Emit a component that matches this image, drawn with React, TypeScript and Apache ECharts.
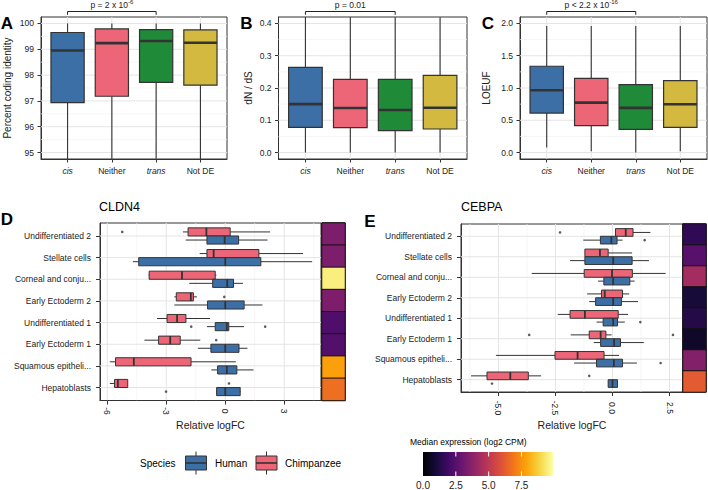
import React, { useEffect, useRef } from 'react';
import * as echarts from 'echarts';

const FONT = '"Liberation Sans", Arial, Helvetica, sans-serif';
const INK = '#222222';
const LINE = '#333333';

// ---------- top panels (A, B, C) ----------
const topCategories = ['cis', 'Neither', 'trans', 'Not DE'];
const italicCategories = ['cis', 'trans'];
const topColors = ['#3d6fa7', '#ec6677', '#1f8b38', '#d3b940'];
// [lower whisker, Q1, median, Q3, upper whisker]
const identityStats = [
  [94.4, 96.93, 98.95, 99.65, 100.0],
  [94.4, 97.18, 99.24, 99.79, 100.0],
  [94.4, 97.72, 99.32, 99.76, 100.0],
  [94.4, 97.61, 99.25, 99.75, 100.0],
];
const dndsStats = [
  [0.0, 0.078, 0.15, 0.264, 0.46],
  [0.0, 0.077, 0.138, 0.227, 0.46],
  [0.0, 0.068, 0.132, 0.227, 0.46],
  [0.0, 0.073, 0.139, 0.239, 0.46],
];
const loeufStats = [
  [0.08, 0.611, 0.966, 1.337, 1.96],
  [0.02, 0.417, 0.773, 1.15, 1.96],
  [0.0, 0.36, 0.692, 1.053, 1.96],
  [0.02, 0.39, 0.748, 1.114, 1.96],
];
const identityTicks = [95, 96, 97, 98, 99, 100];
const identityMinor = [95.5, 96.5, 97.5, 98.5, 99.5];
const dndsTicks = [0, 0.1, 0.2, 0.3, 0.4];
const dndsMinor = [0.05, 0.15, 0.25, 0.35];
const loeufTicks = [0, 0.5, 1, 1.5, 2];
const loeufMinor = [0.25, 0.75, 1.25, 1.75];
const comparedPair = ['cis', 'trans'];
const pIdentity = { base: 'p = 2 x 10', exp: '-6' };
const pDnds = { base: 'p = 0.01', exp: '' };
const pLoeuf = { base: 'p < 2.2 x 10', exp: '-16' };

// ---------- bottom panels (D, E) ----------
const cellTypes = [
  'Undifferentiated 2',
  'Stellate cells',
  'Corneal and conju...',
  'Early Ectoderm 2',
  'Undifferentiated 1',
  'Early Ectoderm 1',
  'Squamous epitheli...',
  'Hepatoblasts',
];
const speciesNames = ['Human', 'Chimpanzee'];
const speciesColors = ['#3d6fa7', '#ec6677'];

const cldn4Chimp = [
  [-2.15, -1.89, -0.96, 0.25, 2.28],
  [-1.3, -0.93, -0.59, 1.71, 3.96],
  [-3.9, -3.87, -2.2, -0.51, -0.45],
  [-2.59, -2.49, -1.75, -1.62, -1.44],
  [-3.47, -2.96, -2.45, -2.0, -0.77],
  [-4.11, -3.39, -2.8, -2.29, -1.27],
  [-5.87, -5.58, -4.65, -1.74, 0.54],
  [-5.87, -5.63, -5.46, -4.96, -4.96],
];
const cldn4Human = [
  [-2.01, -0.93, -0.03, 0.68, 2.15],
  [-4.7, -4.4, 0.0, 1.81, 4.42],
  [-1.83, -0.64, 0.1, 0.42, 0.9],
  [-2.59, -0.9, 0.0, 0.96, 1.89],
  [-0.93, -0.51, 0.08, 0.18, 0.96],
  [-1.39, -0.73, 0.0, 0.7, 1.13],
  [-0.71, -0.39, 0.08, 0.59, 1.44],
  [-0.46, -0.44, 0.0, 0.76, 0.78],
];
// [cell type index, value]
const cldn4ChimpOutliers = [[0, -5.24], [3, -0.05], [5, -0.46], [7, 0.19]];
const cldn4HumanOutliers = [[4, -1.73], [4, 2.03], [7, -3.01]];

const cebpaChimp = [
  [0.13, 0.13, 0.58, 0.9, 1.66],
  [-1.21, -1.21, -0.55, -0.19, 0.86],
  [-3.54, -1.24, -0.02, 0.87, 2.33],
  [-1.11, -0.48, -0.34, 0.44, 0.73],
  [-2.4, -1.86, -1.21, 0.25, 0.68],
  [-1.83, -1.02, -0.52, -0.29, -0.04],
  [-5.11, -2.52, -1.53, -0.37, 0.29],
  [-6.2, -5.5, -4.48, -3.69, -3.13],
];
const cebpaHuman = [
  [-1.28, -0.53, -0.05, 0.2, 0.44],
  [-1.86, -1.21, 0.03, 0.86, 1.6],
  [-0.63, -0.38, 0.03, 0.76, 0.97],
  [-1.02, -0.74, 0.03, 0.39, 1.12],
  [-0.7, -0.41, 0.03, 0.22, 0.54],
  [-0.82, -0.52, 0.07, 0.35, 1.37],
  [-1.68, -0.7, 0.06, 0.44, 1.07],
  [-0.19, -0.19, 0.0, 0.22, 0.22],
];
const cebpaChimpOutliers = [[0, -2.3], [5, -3.65], [5, 2.65], [7, -1.02]];
const cebpaHumanOutliers = [[0, 1.41], [4, 1.22], [6, 2.11], [7, -5.28]];

const cldn4Ticks = [-6, -3, 0, 3];
const cldn4Minor = [-4.5, -1.5, 1.5, 4.5];
const cebpaTicks = [-5, -2.5, 0, 2.5];
const cebpaMinor = [-6.25, -3.75, -1.25, 1.25];

// median expression (log2 CPM) per cell type
const cldn4Expr = [3.4, 3.4, 9.5, 3.4, 2.3, 2.4, 7.8, 6.7];
const cebpaExpr = [1.6, 2.5, 4.35, 1.0, 1.3, 0.7, 3.55, 6.2];
const exprMax = 9.9;
const exprTicks = [0, 2.5, 5, 7.5];
const inferno = ['#000004', '#160b39', '#420a68', '#6a176e', '#932667', '#bc3754', '#dd513a', '#f37819', '#fca50a', '#f6d746', '#fcffa4'];

const BOX_H = 0.375;
const DODGE = 0.1875;

function txt(size: number, extra: any = {}) {
  return { color: INK, fontFamily: FONT, fontSize: size, ...extra };
}

function gridLineSeries(gi: number, hMajor: number[], hMinor: number[], vMajor: number[], vMinor: number[]) {
  return {
    type: 'custom', xAxisIndex: gi, yAxisIndex: gi, silent: true, z: 1, clip: true,
    data: [
      ...hMinor.map((v) => [0, v, 0]),
      ...vMinor.map((v) => [1, v, 0]),
      ...hMajor.map((v) => [0, v, 1]),
      ...vMajor.map((v) => [1, v, 1]),
    ],
    renderItem: (params: any, api: any) => {
      const cs = params.coordSys;
      const orient = api.value(0);
      const v = api.value(1);
      const major = api.value(2) === 1;
      const style = { stroke: major ? '#e4e4e4' : '#f2f2f2', lineWidth: major ? 1 : 0.7 };
      if (orient === 0) {
        const y = api.coord([0, v])[1];
        return { type: 'line', shape: { x1: cs.x, y1: y, x2: cs.x + cs.width, y2: y }, style };
      }
      const x = api.coord([v, 0])[0];
      return { type: 'line', shape: { x1: x, y1: cs.y, x2: x, y2: cs.y + cs.height }, style };
    },
  };
}

function vBoxSeries(gi: number, stats: number[][]) {
  return {
    type: 'custom', xAxisIndex: gi, yAxisIndex: gi, silent: true, z: 3, clip: true,
    data: stats.map((s, i) => [i + 1, ...s]),
    renderItem: (params: any, api: any) => {
      const pos = api.value(0);
      const p = [1, 2, 3, 4, 5].map((k) => api.coord([pos, api.value(k)]));
      const half = api.size([0.75, 0])[0] / 2;
      const cx = p[2][0];
      return {
        type: 'group',
        children: [
          { type: 'line', shape: { x1: cx, y1: p[4][1], x2: cx, y2: p[3][1] }, style: { stroke: LINE, lineWidth: 1.1 } },
          { type: 'line', shape: { x1: cx, y1: p[1][1], x2: cx, y2: p[0][1] }, style: { stroke: LINE, lineWidth: 1.1 } },
          { type: 'rect', shape: { x: cx - half, y: p[3][1], width: half * 2, height: p[1][1] - p[3][1] }, style: { fill: topColors[params.dataIndex], stroke: LINE, lineWidth: 1.2 } },
          { type: 'line', shape: { x1: cx - half, y1: p[2][1], x2: cx + half, y2: p[2][1] }, style: { stroke: LINE, lineWidth: 2.6 } },
        ],
      };
    },
  };
}

function bracketSeries(gi: number, label: { base: string; exp: string }) {
  const a = topCategories.indexOf(comparedPair[0]) + 1;
  const b = topCategories.indexOf(comparedPair[1]) + 1;
  return {
    type: 'custom', xAxisIndex: gi, yAxisIndex: gi, silent: true, z: 5, clip: false,
    data: [[a, b]],
    renderItem: (params: any, api: any) => {
      const cs = params.coordSys;
      const x1 = api.coord([api.value(0), 0])[0];
      const x2 = api.coord([api.value(1), 0])[0];
      const yLine = cs.y - 5.5;
      const yTick = cs.y - 2.2;
      const text = label.exp ? `{b|${label.base}}{s|${label.exp}}` : `{b|${label.base}}`;
      return {
        type: 'group',
        children: [
          { type: 'polyline', shape: { points: [[x1, yTick], [x1, yLine], [x2, yLine], [x2, yTick]] }, style: { stroke: INK, lineWidth: 1, fill: null } },
          {
            type: 'text', x: (x1 + x2) / 2, y: yLine - 0.5,
            style: {
              text,
              align: 'center', verticalAlign: 'bottom', textAlign: 'center', textVerticalAlign: 'bottom',
              rich: {
                b: { fontSize: 8.5, fontFamily: FONT, fill: INK, color: INK, lineHeight: 12 },
                s: { fontSize: 6, fontFamily: FONT, fill: INK, color: INK, verticalAlign: 'top', lineHeight: 7 },
              },
            },
          },
        ],
      };
    },
  };
}

function hBoxSeries(gi: number, stats: number[][], color: string, shift: number) {
  return {
    type: 'custom', xAxisIndex: gi, yAxisIndex: gi, silent: true, z: 3, clip: true,
    data: stats.map((s, i) => [i + 1, ...s]),
    renderItem: (params: any, api: any) => {
      const y = api.value(0) + shift;
      const p = [1, 2, 3, 4, 5].map((k) => api.coord([api.value(k), y]));
      const half = Math.abs(api.size([0, BOX_H])[1]) / 2;
      const cy = p[2][1];
      return {
        type: 'group',
        children: [
          { type: 'line', shape: { x1: p[0][0], y1: cy, x2: p[1][0], y2: cy }, style: { stroke: LINE, lineWidth: 1 } },
          { type: 'line', shape: { x1: p[3][0], y1: cy, x2: p[4][0], y2: cy }, style: { stroke: LINE, lineWidth: 1 } },
          { type: 'rect', shape: { x: p[1][0], y: cy - half, width: p[3][0] - p[1][0], height: half * 2 }, style: { fill: color, stroke: LINE, lineWidth: 1 } },
          { type: 'line', shape: { x1: p[2][0], y1: cy - half, x2: p[2][0], y2: cy + half }, style: { stroke: LINE, lineWidth: 1.8 } },
        ],
      };
    },
  };
}

function outlierSeries(gi: number, outs: number[][], shift: number) {
  return {
    type: 'scatter', xAxisIndex: gi, yAxisIndex: gi, silent: true, z: 4, symbolSize: 2.6,
    itemStyle: { color: LINE },
    data: outs.map(([row, v]) => [v, row + 1 + shift]),
  };
}

const lineStyle = { color: LINE, width: 1 };
const topPositions = topCategories.map((_, i) => i + 1);
const rowPositions = cellTypes.map((_, i) => i + 1);

function topX(gi: number) {
  return {
    type: 'value', gridIndex: gi, min: 0.4, max: 4.6,
    axisLine: { show: true, onZero: false, lineStyle },
    axisTick: { show: true, length: 3.5, customValues: topPositions, lineStyle },
    axisLabel: {
      ...txt(8.5), margin: 7, customValues: topPositions,
      formatter: (v: number) => {
        const name = topCategories[Math.round(v) - 1];
        return italicCategories.includes(name) ? `{it|${name}}` : `{up|${name}}`;
      },
      rich: { it: txt(8.5, { fontStyle: 'italic' }), up: txt(8.5) },
    },
    splitLine: { show: false },
  };
}

function topY(gi: number, min: number, max: number, ticks: number[], digits: number, name: string, nameGap: number) {
  return {
    type: 'value', gridIndex: gi, min, max,
    name, nameLocation: 'middle', nameGap, nameRotate: 90, nameTextStyle: txt(10),
    axisLine: { show: true, onZero: false, lineStyle },
    axisTick: { show: true, length: 3.5, customValues: ticks, lineStyle },
    axisLabel: { ...txt(8.5), margin: 7, customValues: ticks, formatter: (v: number) => v.toFixed(digits) },
    splitLine: { show: false },
  };
}

function fcX(gi: number, min: number, max: number, ticks: number[], digits: number, nameGap: number, margin: number) {
  return {
    type: 'value', gridIndex: gi, min, max,
    name: 'Relative logFC', nameLocation: 'middle', nameGap, nameTextStyle: txt(10.5),
    axisLine: { show: true, onZero: false, lineStyle },
    axisTick: { show: true, length: 4, customValues: ticks, lineStyle },
    axisLabel: {
      ...txt(8.5), rotate: -90, align: 'center', verticalAlign: 'middle', margin, customValues: ticks,
      formatter: (v: number) => v.toFixed(digits),
    },
    splitLine: { show: false },
  };
}

function rowY(gi: number) {
  return {
    type: 'value', gridIndex: gi, min: 0.4, max: 8.6, inverse: true,
    axisLine: { show: true, onZero: false, lineStyle },
    axisTick: { show: true, length: 4, customValues: rowPositions, lineStyle },
    axisLabel: { ...txt(8.5), margin: 9, customValues: rowPositions, formatter: (v: number) => cellTypes[Math.round(v) - 1] },
    splitLine: { show: false },
  };
}

function buildOption() {
  const gridBoxes = [
    { left: 41, top: 17, width: 186, height: 142 },
    { left: 278.5, top: 17, width: 188.5, height: 142 },
    { left: 520, top: 17, width: 187, height: 142 },
    { left: 100, top: 223, width: 221, height: 177.5 },
    { left: 461, top: 224, width: 222, height: 168 },
    { left: 322, top: 223, width: 23, height: 177.5 },
    { left: 683, top: 224, width: 23, height: 168 },
    { left: 423, top: 452, width: 130, height: 26 },
  ];
  const grid = gridBoxes.map((g, i) => ({
    ...g, containLabel: false, show: i < 7, backgroundColor: '#ffffff',
    borderColor: i >= 5 ? '#111111' : LINE, borderWidth: 1,
  }));

  const xAxis: any[] = [
    topX(0), topX(1), topX(2),
    fcX(3, -6.37, 4.87, cldn4Ticks, 0, 19, 10.5),
    fcX(4, -6.64, 3.09, cebpaTicks, 1, 27.5, 16),
    { type: 'category', gridIndex: 5, data: ['expr'], show: false },
    { type: 'category', gridIndex: 6, data: ['expr'], show: false },
    {
      type: 'value', gridIndex: 7, min: 0, max: exprMax,
      axisLine: { show: false }, axisTick: { show: false }, splitLine: { show: false },
      axisLabel: { ...txt(10), margin: 4, customValues: exprTicks, formatter: (v: number) => v.toFixed(1) },
    },
  ];
  const yAxis: any[] = [
    topY(0, 94.75, 100.25, identityTicks, 0, 'Percent coding identity', 29),
    topY(1, -0.02, 0.42, dndsTicks, 1, 'dN / dS', 25),
    topY(2, -0.1, 2.1, loeufTicks, 1, 'LOEUF', 29),
    rowY(3), rowY(4),
    { type: 'category', gridIndex: 5, data: cellTypes, inverse: true, show: false },
    { type: 'category', gridIndex: 6, data: cellTypes, inverse: true, show: false },
    { type: 'value', gridIndex: 7, min: 0, max: 1, show: false },
  ];

  const series: any[] = [
    gridLineSeries(0, identityTicks, identityMinor, topPositions, []),
    gridLineSeries(1, dndsTicks, dndsMinor, topPositions, []),
    gridLineSeries(2, loeufTicks, loeufMinor, topPositions, []),
    gridLineSeries(3, rowPositions, [], cldn4Ticks, cldn4Minor),
    gridLineSeries(4, rowPositions, [], cebpaTicks, cebpaMinor),
    vBoxSeries(0, identityStats),
    vBoxSeries(1, dndsStats),
    vBoxSeries(2, loeufStats),
    bracketSeries(0, pIdentity),
    bracketSeries(1, pDnds),
    bracketSeries(2, pLoeuf),
    hBoxSeries(3, cldn4Chimp, speciesColors[1], -DODGE),
    hBoxSeries(3, cldn4Human, speciesColors[0], DODGE),
    hBoxSeries(4, cebpaChimp, speciesColors[1], -DODGE),
    hBoxSeries(4, cebpaHuman, speciesColors[0], DODGE),
    outlierSeries(3, cldn4ChimpOutliers, -DODGE),
    outlierSeries(3, cldn4HumanOutliers, DODGE),
    outlierSeries(4, cebpaChimpOutliers, -DODGE),
    outlierSeries(4, cebpaHumanOutliers, DODGE),
  ];
  const heatD = series.length;
  series.push({
    type: 'heatmap', xAxisIndex: 5, yAxisIndex: 5, silent: true,
    data: cldn4Expr.map((v, i) => [0, i, v]),
    itemStyle: { borderColor: '#111111', borderWidth: 1 },
  });
  const heatE = series.length;
  series.push({
    type: 'heatmap', xAxisIndex: 6, yAxisIndex: 6, silent: true,
    data: cebpaExpr.map((v, i) => [0, i, v]),
    itemStyle: { borderColor: '#111111', borderWidth: 1 },
  });
  series.push({
    type: 'custom', xAxisIndex: 7, yAxisIndex: 7, silent: true, z: 2,
    data: [[0, 0, exprMax, 1]],
    renderItem: (params: any, api: any) => {
      const p0 = api.coord([api.value(0), api.value(1)]);
      const p1 = api.coord([api.value(2), api.value(3)]);
      const stops = inferno.map((c, i) => ({ offset: i / (inferno.length - 1), color: c }));
      const children: any[] = [
        { type: 'rect', shape: { x: p0[0], y: p1[1], width: p1[0] - p0[0], height: p0[1] - p1[1] }, style: { fill: new echarts.graphic.LinearGradient(0, 0, 1, 0, stops) } },
      ];
      exprTicks.filter((t) => t > 0).forEach((t) => {
        const x = api.coord([t, 0])[0];
        children.push({ type: 'line', shape: { x1: x, y1: p1[1], x2: x, y2: p1[1] + 4.5 }, style: { stroke: '#ffffff', lineWidth: 1 } });
        children.push({ type: 'line', shape: { x1: x, y1: p0[1] - 4.5, x2: x, y2: p0[1] }, style: { stroke: '#ffffff', lineWidth: 1 } });
      });
      return { type: 'group', children };
    },
  });

  const textEl = (text: string, x: number, y: number, size: number, align = 'left', weight = 'normal') => ({
    type: 'text', x, y, silent: true,
    style: {
      text, fill: '#000000', fontSize: size, fontWeight: weight, fontFamily: FONT,
      align, verticalAlign: 'middle', textAlign: align, textVerticalAlign: 'middle',
    },
  });
  const legendKey = (x: number, color: string) => ({
    type: 'group', silent: true,
    children: [
      { type: 'line', shape: { x1: x + 10.5, y1: 451.5, x2: x + 10.5, y2: 474.5 }, style: { stroke: LINE, lineWidth: 1 } },
      { type: 'rect', shape: { x, y: 456, width: 21, height: 14 }, style: { fill: color, stroke: LINE, lineWidth: 1 } },
      { type: 'line', shape: { x1: x, y1: 463, x2: x + 21, y2: 463 }, style: { stroke: LINE, lineWidth: 1.6 } },
    ],
  });

  const graphic = [
    textEl('A', 7, 23, 17, 'center', 'bold'),
    textEl('B', 246.5, 23, 17, 'center', 'bold'),
    textEl('C', 488, 23, 17, 'center', 'bold'),
    textEl('D', 7, 219, 17, 'center', 'bold'),
    textEl('E', 370, 221, 17, 'center', 'bold'),
    textEl('CLDN4', 99, 207, 12.5),
    textEl('CEBPA', 461, 207, 12.5),
    textEl('Species', 140, 463, 10),
    legendKey(185.5, speciesColors[0]),
    textEl(speciesNames[0], 215, 463, 10),
    legendKey(256, speciesColors[1]),
    textEl(speciesNames[1], 285, 463, 10),
    textEl('Median expression (log2 CPM)', 410, 442, 8.5),
  ];

  return {
    animation: false,
    backgroundColor: '#ffffff',
    textStyle: { fontFamily: FONT },
    grid, xAxis, yAxis, series, graphic,
    visualMap: {
      type: 'continuous', show: false, min: 0, max: exprMax, dimension: 2,
      seriesIndex: [heatD, heatE], inRange: { color: inferno },
    },
  };
}

export default function App() {
  const ref = useRef<HTMLDivElement>(null);
  useEffect(() => {
    if (!ref.current) return;
    const chart = echarts.init(ref.current, null, { renderer: 'svg' });
    chart.setOption(buildOption() as any);
    return () => chart.dispose();
  }, []);
  return (
    <div
      ref={ref}
      style={{ position: 'fixed', left: 0, top: 0, width: 708, height: 490, background: '#ffffff' }}
    />
  );
}
